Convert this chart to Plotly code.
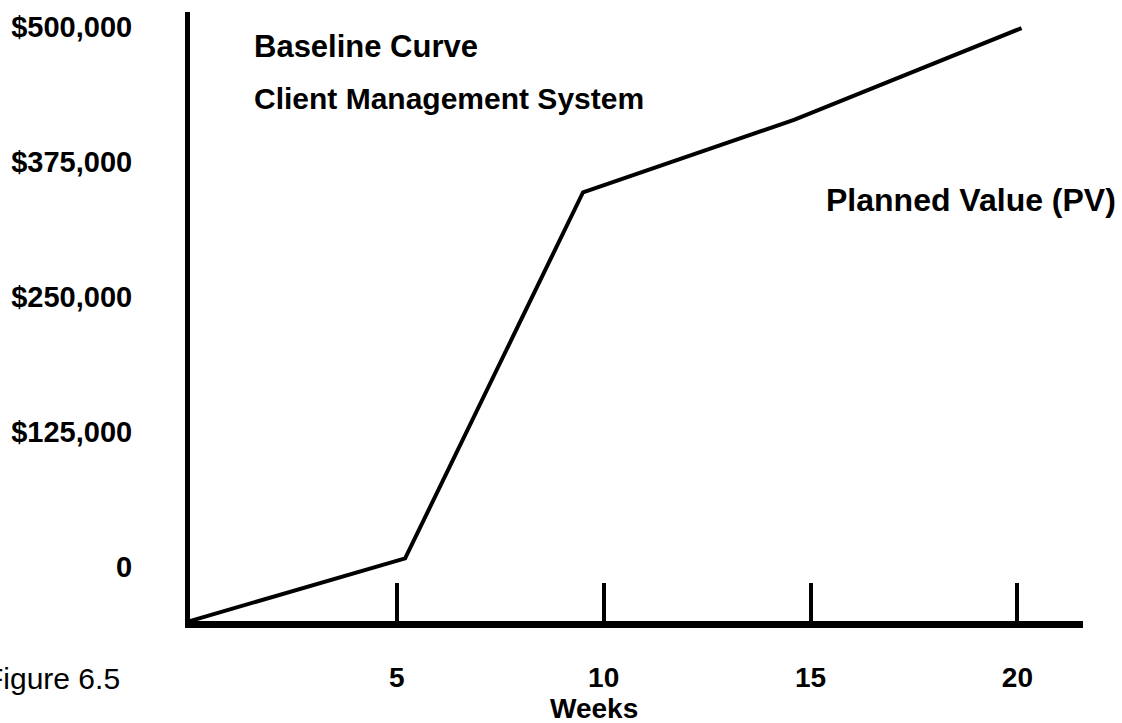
import plotly.graph_objects as go

# Data
weeks = [0, 5.2, 9.5, 14.6, 20.1]
planned_value = [-50000, 8000, 347000, 414000, 499000]

x_tick_vals = [5, 10, 15, 20]
x_tick_text = ["5", "10", "15", "20"]
y_tick_vals = [0, 125000, 250000, 375000, 500000]
y_tick_text = ["0", "$125,000", "$250,000", "$375,000", "$500,000"]

FONT = "Liberation Sans, Arial, sans-serif"

fig = go.Figure()
fig.add_trace(go.Scatter(
    x=weeks, y=planned_value, mode="lines",
    line=dict(color="black", width=4), showlegend=False, hoverinfo="skip",
))

W, H = 1122, 723
ml, mr, mt, mb = 190, 39, 12, 102
pw = W - ml - mr
ph = H - mt - mb

fig.update_layout(
    width=W, height=H,
    margin=dict(l=ml, r=mr, t=mt, b=mb),
    paper_bgcolor="white", plot_bgcolor="white",
    font=dict(family=FONT, color="black"),
    xaxis=dict(
        range=[0, pw / 41.37],
        showgrid=False, zeroline=False,
        showline=True, linecolor="black", linewidth=7,
        ticks="inside", ticklen=38, tickwidth=4, tickcolor="black",
        tickvals=x_tick_vals, ticktext=x_tick_text,
        tickfont=dict(size=28, family=FONT, weight="bold"),
        ticklabelstandoff=25,
    ),
    yaxis=dict(
        range=[-50000, 513900],
        showgrid=False, zeroline=False,
        showline=True, linecolor="black", linewidth=5,
        ticks="", tickvals=y_tick_vals, ticktext=y_tick_text,
        tickfont=dict(size=29, family=FONT, weight="bold"),
        ticklabelstandoff=47,
    ),
)

def px_to_paper_x(px):
    return (px - ml) / pw

def px_to_paper_y(py):
    return 1 - (py - mt) / ph

annots = [
    ("<b>Baseline Curve</b>", 252, 46, "left", 31),
    ("<b>Client Management System</b>", 252, 98, "left", 30),
    ("<b>Planned Value (PV)</b>", 824, 200, "left", 32),
    ("<b>Weeks</b>", 594, 708, "center", 28),
]
for text, x, y, xa, size in annots:
    fig.add_annotation(
        text=text, x=px_to_paper_x(x), y=px_to_paper_y(y),
        xref="paper", yref="paper", xanchor=xa, yanchor="middle",
        showarrow=False, font=dict(size=size, family=FONT, color="black"),
    )

fig.add_annotation(
    text="Figure 6.5", x=px_to_paper_x(122), y=px_to_paper_y(678),
    xref="paper", yref="paper", xanchor="right", yanchor="middle",
    showarrow=False, font=dict(size=30, family=FONT, color="black"),
)

fig.write_html("out.html")
